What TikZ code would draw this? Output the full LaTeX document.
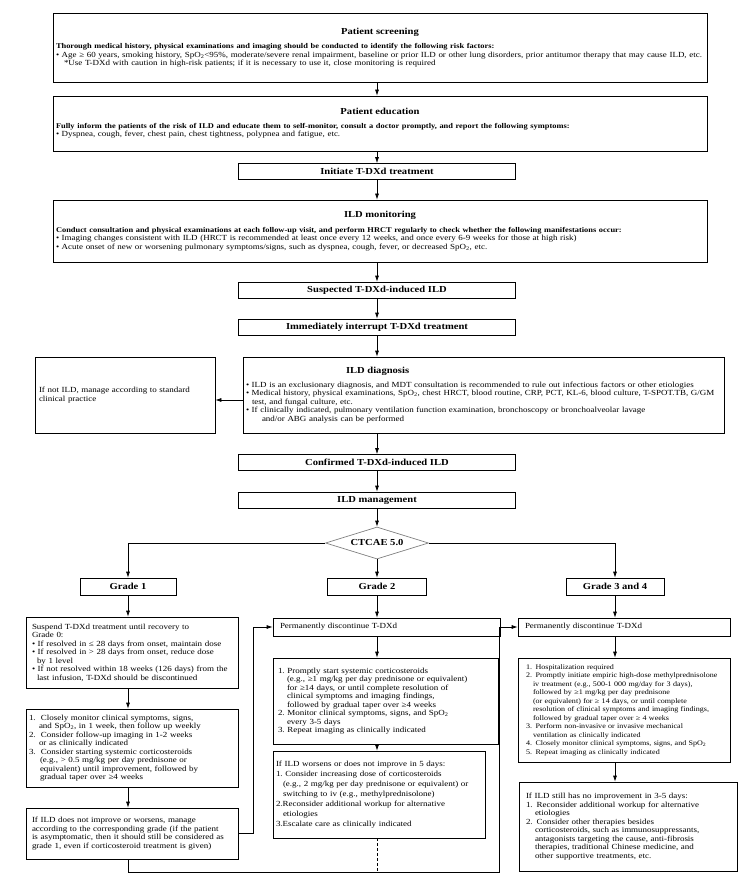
\documentclass[tikz,border=0pt]{standalone}
\usepackage{fontspec}
\setmainfont{Liberation Serif}[FakeStretch=1.15]
\usetikzlibrary{shapes.geometric,arrows.meta}

\newcommand{\bodysize}{\fontsize{7.8}{8.5}\selectfont}
\newcommand{\smallbody}{\fontsize{7}{8.5}\selectfont}
\newcommand{\headsize}{\fontsize{9.2}{10}\selectfont\bfseries}
\newcommand{\leadsize}{\fontsize{7.3}{8.5}\selectfont\bfseries}
\newcommand{\boxtitle}[1]{\makebox[\hsize]{\headsize #1}}
\newcommand{\bul}{\textbullet\ }
\newcommand{\spo}{SpO\textsubscript{2}}

\tikzset{
  box/.style={draw, line width=0.7pt, align=left, font=\bodysize, inner ysep=1pt},
  stepbox/.style={draw, line width=0.7pt, font=\headsize, minimum width=277pt, minimum height=16pt, inner sep=0pt},
  flow/.style={-{Latex[length=6pt,width=4pt]}, line width=0.7pt},
}

\begin{document}
\begin{tikzpicture}[x=1pt,y=-1pt]
  \useasboundingbox (0,0) rectangle (740,882);

  % main column
  \node[box, inner xsep=3pt, text width=648pt, minimum width=654pt, minimum height=69pt] (screen) at (380,47.5) {%
    \boxtitle{Patient screening}\\[6pt]
    {\leadsize Thorough medical history, physical examinations and imaging should be conducted to identify the following risk factors:}\\
    \bul Age ≥ 60 years, smoking history, \spo<95\%, moderate/severe renal impairment, baseline or prior ILD or other lung disorders, prior antitumor therapy that may cause ILD, etc.\\
    \hspace*{8pt}*Use T-DXd with caution in high-risk patients; if it is necessary to use it, close monitoring is required};
  \node[box, inner xsep=3pt, text width=648pt, minimum width=654pt, minimum height=55pt] (educ) at (380,123.5) {%
    \boxtitle{Patient education}\\[5pt]
    {\leadsize Fully inform the patients of the risk of ILD and educate them to self-monitor, consult a doctor promptly, and report the following symptoms:}\\
    \bul Dyspnea, cough, fever, chest pain, chest tightness, polypnea and fatigue, etc.};
  \node[stepbox] (init) at (377,171.5) {Initiate T-DXd treatment};
  \node[box, inner xsep=3pt, text width=648pt, minimum width=654pt, minimum height=62pt] (monit) at (380,231) {%
    \boxtitle{ILD monitoring}\\[6pt]
    {\leadsize Conduct consultation and physical examinations at each follow-up visit, and perform HRCT regularly to check whether the following manifestations occur:}\\
    \bul Imaging changes consistent with ILD (HRCT is recommended at least once every 12 weeks, and once every 6-9 weeks for those at high risk)\\
    \bul Acute onset of new or worsening pulmonary symptoms/signs, such as dyspnea, cough, fever, or decreased \spo, etc.};
  \node[stepbox] (susp) at (377,290) {Suspected T-DXd-induced ILD};
  \node[stepbox] (interr) at (377,327) {Immediately interrupt T-DXd treatment};
  \node[box, inner xsep=3pt, text width=475pt, minimum width=481pt, minimum height=76pt] (diag) at (483.5,395) {%
    \hspace*{100pt}{\headsize ILD diagnosis}\\[5pt]
    \bul ILD is an exclusionary diagnosis, and MDT consultation is recommended to rule out infectious factors or other etiologies\\
    \bul Medical history, physical examinations, \spo, chest HRCT, blood routine, CRP, PCT, KL-6, blood culture, T-SPOT.TB, G/GM\\
    \hspace*{6pt}test, and fungal culture, etc.\\
    \bul If clinically indicated, pulmonary ventilation function examination, bronchoscopy or bronchoalveolar lavage\\
    \hspace*{16pt}and/or ABG analysis can be performed};
  \node[box, inner xsep=4pt, text width=172pt, minimum width=180pt, minimum height=76pt] (notild) at (125,395) {%
    \makebox[\hsize][s]{If not ILD, manage according to standard}\\
    clinical practice};
  \node[stepbox] (confirm) at (377,462.5) {Confirmed T-DXd-induced ILD};
  \node[stepbox] (manage) at (377,500) {ILD management};
  \node[draw=gray, line width=0.7pt, diamond, aspect=3.2, minimum width=103pt, minimum height=32pt, inner sep=0pt, font=\headsize] (ctcae) at (377,543) {CTCAE 5.0};

  % grades
  \node[stepbox, minimum width=96pt, minimum height=17pt] (g1) at (128,586.5) {Grade 1};
  \node[stepbox, minimum width=99pt, minimum height=17pt] (g2) at (377,586.5) {Grade 2};
  \node[stepbox, minimum width=98pt, minimum height=17pt] (g34) at (615,586.5) {Grade 3 and 4};

  \node[box, inner xsep=6pt, text width=200pt, minimum width=212pt, minimum height=71pt] (g1a) at (132,652.5) {%
    Suspend T-DXd treatment until recovery to\\
    Grade 0:\\
    \bul If resolved in ≤ 28 days from onset, maintain dose\\
    \bul If resolved in > 28 days from onset, reduce dose\\
    \hspace*{5pt}by 1 level\\
    \bul If not resolved within 18 weeks (126 days) from the\\
    \hspace*{5pt}last infusion, T-DXd should be discontinued};
  \node[box, inner xsep=3pt, text width=206pt, minimum width=212pt, minimum height=78pt] (g1b) at (132,748) {%
    1.\ \ Closely monitor clinical symptoms, signs,\\
    \hspace*{10pt}and \spo, in 1 week, then follow up weekly\\
    2.\ \ Consider follow-up imaging in 1-2 weeks\\
    \hspace*{10pt}or as clinically indicated\\
    3.\ \ Consider starting systemic corticosteroids\\
    \hspace*{11pt}(e.g., > 0.5 mg/kg per day prednisone or\\
    \hspace*{11pt}equivalent) until improvement, followed by\\
    \hspace*{11pt}gradual taper over ≥4 weeks};
  \node[box, inner xsep=6pt, text width=200pt, minimum width=212pt, minimum height=51pt] (g1c) at (132,833.5) {%
    If ILD does not improve or worsens, manage\\
    according to the corresponding grade (if the patient\\
    is asymptomatic, then it should still be considered as\\
    grade 1, even if corticosteroid treatment is given)};

  \node[box, inner xsep=7pt, text width=213pt, minimum width=227pt, minimum height=18pt] (g2a) at (386.5,627) {Permanently discontinue T-DXd};
  \node[box, inner xsep=5pt, text width=215pt, minimum width=225pt, minimum height=86pt] (g2b) at (385.5,701) {%
    1.\ Promptly start systemic corticosteroids\\
    \hspace*{9pt}(e.g., ≥1 mg/kg per day prednisone or equivalent)\\
    \hspace*{9pt}for ≥14 days, or until complete resolution of\\
    \hspace*{9pt}clinical symptoms and imaging findings,\\
    \hspace*{9pt}followed by gradual taper over ≥4 weeks\\
    2.\ Monitor clinical symptoms, signs, and \spo\\
    \hspace*{9pt}every 3-5 days\\
    3.\ Repeat imaging as clinically indicated};
  \node[box, inner xsep=3pt, text width=206pt, minimum width=212pt, minimum height=87pt] (g2c) at (379,794.5) {%
    If ILD worsens or does not improve in 5 days:\\[1.5pt]
    1.\ Consider increasing dose of corticosteroids\\[1.5pt]
    \hspace*{7pt}(e.g., 2 mg/kg per day prednisone or equivalent) or\\[1.5pt]
    \hspace*{7pt}switching to iv (e.g., methylprednisolone)\\[1.5pt]
    2.Reconsider additional workup for alternative\\[1.5pt]
    \hspace*{7pt}etiologies\\[1.5pt]
    3.Escalate care as clinically indicated};

  \node[box, inner xsep=7pt, text width=198pt, minimum width=212pt, minimum height=18pt] (g3a) at (624,627) {Permanently discontinue T-DXd};
  \node[box, font=\smallbody, inner xsep=8pt, text width=196pt, minimum width=212pt, minimum height=104pt] (g3b) at (624,710) {%
    1. Hospitalization required\\
    2. Promptly initiate empiric high-dose methylprednisolone\\
    \hspace*{7pt}iv treatment (e.g., 500-1~000 mg/day for 3 days),\\
    \hspace*{7pt}followed by ≥1 mg/kg per day prednisone\\
    \hspace*{7pt}(or equivalent) for ≥ 14 days, or until complete\\
    \hspace*{7pt}resolution of clinical symptoms and imaging findings,\\
    \hspace*{7pt}followed by gradual taper over ≥ 4 weeks\\
    3. Perform non-invasive or invasive mechanical\\
    \hspace*{7pt}ventilation as clinically indicated\\
    4. Closely monitor clinical symptoms, signs, and \spo\\
    5. Repeat imaging as clinically indicated};
  \node[box, inner xsep=7pt, text width=204pt, minimum width=218pt, minimum height=89pt] (g3c) at (628,826.5) {%
    If ILD still has no improvement in 3-5 days:\\
    1. Reconsider additional workup for alternative\\
    \hspace*{9pt}etiologies\\
    2. Consider other therapies besides\\
    \hspace*{9pt}corticosteroids, such as immunosuppressants,\\
    \hspace*{9pt}antagonists targeting the cause, anti-fibrosis\\
    \hspace*{9pt}therapies, traditional Chinese medicine, and\\
    \hspace*{9pt}other supportive treatments, etc.};

  % connectors
  \draw[flow] (screen.south -| init) -- (educ.north -| init);
  \draw[flow] (educ.south -| init) -- (init);
  \draw[flow] (init) -- (monit.north -| init);
  \draw[flow] (monit.south -| init) -- (susp);
  \draw[flow] (susp) -- (interr);
  \draw[flow] (interr) -- (diag.north -| interr);
  \draw[flow] ([yshift=-5pt]diag.west) -- ([yshift=-5pt]notild.east);
  \draw[flow] (diag.south -| confirm) -- (confirm);
  \draw[flow] (confirm) -- (manage);
  \draw[flow] (manage) -- (ctcae);
  \draw[flow] (ctcae.west) -| (g1);
  \draw[flow] (ctcae) -- (g2);
  \draw[flow] (ctcae.east) -| (g34);

  \draw[flow] (g1) -- (g1a.north -| g1);
  \draw[flow] (g1a.south -| g1) -- (g1b.north -| g1);
  \draw[flow] (g1b.south -| g1) -- (g1c.north -| g1);
  \draw[flow] (g2) -- (g2a.north -| g2);
  \draw[flow] (g2a.south -| g2) -- (g2b.north -| g2);
  \draw[flow] (g2b.south -| g2) -- (g2c.north -| g2);
  \draw[flow] (g34) -- (g3a.north -| g34);
  \draw[flow] (g3a.south -| g34) -- (g3b.north -| g34);
  \draw[flow] (g3b.south -| g34) -- (g3c.north -| g34);

  \coordinate (loop) at (499,872);
  \draw[flow] (g1c.east) -- ++(15,0) |- (g2a.west);
  \draw[flow] (g1c.south -| g1) |- (loop) |- (g3a.west);
  \draw[line width=0.7pt, dash pattern=on 3pt off 2pt] (g2c.south -| g2) -- (loop -| g2);
\end{tikzpicture}
\end{document}
